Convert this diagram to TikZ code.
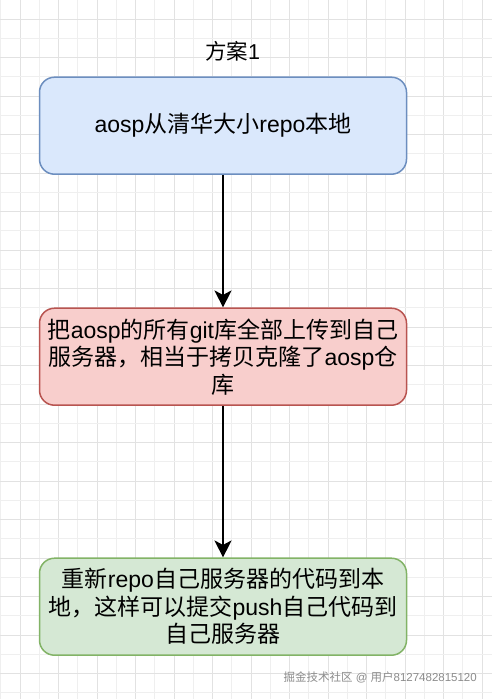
\documentclass[tikz,border=0pt]{standalone}
\usepackage{fontspec}
\setmainfont{Liberation Sans}
\newfontfamily\cjk{Noto Sans CJK SC}
\usetikzlibrary{arrows.meta}
\newcommand\zh[1]{{\cjk #1}}
\definecolor{gridmajor}{HTML}{E2E2E2}
\definecolor{gridminor}{HTML}{EFEFEF}
\definecolor{bluefill}{HTML}{DAE8FC}
\definecolor{bluedraw}{HTML}{6C8EBF}
\definecolor{redfill}{HTML}{F8CECC}
\definecolor{reddraw}{HTML}{B85450}
\definecolor{greenfill}{HTML}{D5E8D4}
\definecolor{greendraw}{HTML}{82B366}
\tikzset{
  flowbox/.style={rounded corners=15pt, line width=1.5pt, minimum width=367pt, minimum height=97pt,
    align=center, inner sep=0pt, font=\fontsize{23}{27.5}\selectfont, text=black},
  flowarrow/.style={line width=1.8pt, -{Stealth[length=17pt,width=17pt,inset=4.5pt]}},
}
\begin{document}
\begin{tikzpicture}[x=1pt,y=-1pt]
\useasboundingbox (0,0) rectangle (492,699);
\fill[white] (0,0) rectangle (492,699);
% grid
\foreach \k in {0,...,13} {
  \draw[gridminor, line width=0.8pt] ({39.25+38.5*(\k-1)},0) -- ++(0,699);
  \draw[gridmajor, line width=0.9pt] ({20+38.5*\k},0) -- ++(0,699);
}
\foreach \k in {0,...,18} {
  \draw[gridminor, line width=0.8pt] (0,{38.25+38.5*(\k-1)}) -- ++(492,0);
  \draw[gridmajor, line width=0.9pt] (0,{19+38.5*\k}) -- ++(492,0);
}
% title
\node[font=\fontsize{21.5}{24}\selectfont, inner sep=0pt] (title) at (232.5,51) {\zh{方案}1};
% boxes
\node[flowbox, fill=bluefill, draw=bluedraw] (b1) at (223,125.7)
  {aosp\zh{从清华大小}repo\zh{本地}};
\node[flowbox, fill=redfill, draw=reddraw] (b2) at (223,356.7)
  {\zh{把}aosp\zh{的所有}git\zh{库全部上传到自己}\\
   \zh{服务器，相当于拷贝克隆了}aosp\zh{仓}\\
   \zh{库}};
\node[flowbox, fill=greenfill, draw=greendraw] (b3) at (223,606.7)
  {\zh{重新}repo\zh{自己服务器的代码到本}\\
   \zh{地，这样可以提交}push\zh{自己代码到}\\
   \zh{自己服务器}};
% arrows
\draw[flowarrow] (b1.south) -- (b2.north);
\draw[flowarrow] (b2.south) -- (b3.north);
% watermark
\node[anchor=east, inner sep=0pt, text=black!45, font=\fontsize{11.5}{13}\selectfont] (wm) at (477,677)
  {\zh{掘金技术社区} @ \zh{用户}8127482815120};
\end{tikzpicture}
\end{document}
